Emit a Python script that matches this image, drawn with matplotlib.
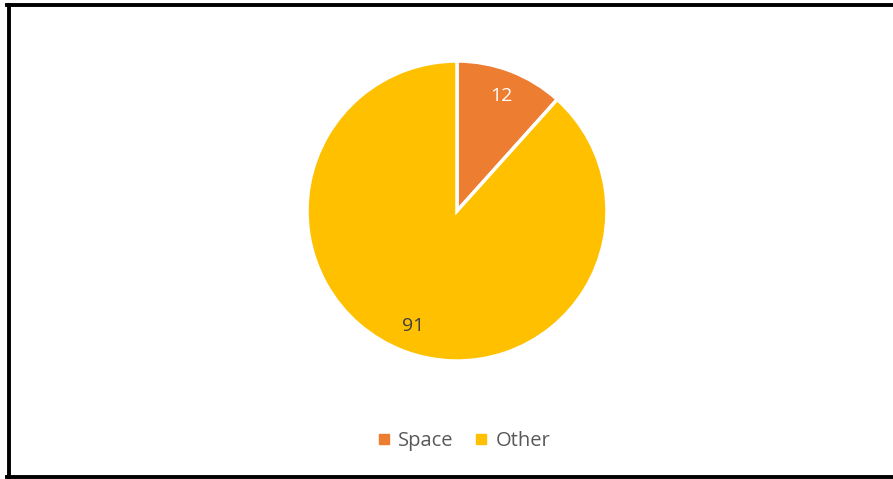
import matplotlib
matplotlib.use("Agg")
import matplotlib.pyplot as plt
from matplotlib.lines import Line2D

categories = ["Space", "Other"]
values = [12, 91]
colors = ["#ED7D31", "#FFC000"]

plt.rcParams['font.family'] = ['Open Sans', 'DejaVu Sans']

W, H = 893, 479
fig = plt.figure(figsize=(W/100, H/100), dpi=100)
cx, cy, r = 457, 211, 150
ax = fig.add_axes([(cx - r)/W, (H - cy - r)/H, 2*r/W, 2*r/H])
wedges, texts = ax.pie(values, colors=colors, startangle=90, counterclock=False,
                       radius=1, labels=[str(v) for v in values], labeldistance=0.82,
                       wedgeprops=dict(edgecolor="white", linewidth=2.5),
                       textprops=dict(fontsize=14))
texts[0].set_color("white")
texts[1].set_color("#404040")
for t in texts:
    t.set_horizontalalignment("center")
    t.set_verticalalignment("center")
ax.set_xlim(-1, 1)
ax.set_ylim(-1, 1)
ax.set_aspect("equal")
ax.axis("off")

handles = [Line2D([0], [0], marker="s", linestyle="", markersize=7,
                  markerfacecolor=c, markeredgecolor=c) for c in colors]
fig.legend(handles, categories, loc="center", bbox_to_anchor=(463/W, 1 - 441/H),
           ncol=2, frameon=False, fontsize=14.5, handletextpad=0.3, columnspacing=1.0,
           labelcolor="#595959", handlelength=0.8)

# border
lw = 2.8
fig.add_artist(Line2D([8.5/W, 8.5/W], [1 - 5/H, 1 - 477/H], color="black", lw=lw, transform=fig.transFigure))
fig.add_artist(Line2D([7/W, 1.0], [1 - 5/H, 1 - 5/H], color="black", lw=lw, transform=fig.transFigure))
fig.add_artist(Line2D([7/W, 1.0], [1 - 477/H, 1 - 477/H], color="black", lw=lw, transform=fig.transFigure))

fig.savefig("out.png", dpi=100, facecolor="white")
